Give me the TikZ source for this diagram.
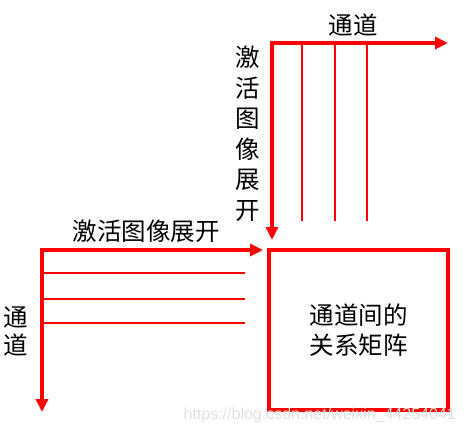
\documentclass[tikz,border=0pt]{standalone}
\usepackage{fontspec}
\setmainfont{Liberation Sans}
\newfontfamily\cjk{Noto Sans CJK SC}
\usetikzlibrary{arrows.meta}
\begin{document}
\begin{tikzpicture}[x=1pt,y=-1pt,
  thickline/.style={red, line width=4pt},
  thinline/.style={red, line width=2pt},
  arr/.style={thickline, -{Triangle[length=13pt,width=12pt]}},
  lbl/.style={font=\cjk\fontsize{24.5}{30}\selectfont, inner sep=0pt, align=center},
  wmark/.style={font=\fontsize{16}{18}\selectfont, text=black!12, inner sep=0pt}
]
\useasboundingbox (0,0) rectangle (466,434);
% ---------- top group ----------
\coordinate (ts) at (270,43);
\coordinate (tc) at (272,41);
\coordinate (tr) at (448,43);
\coordinate (tb) at (272,240);
\draw[arr] (ts) -- (tr);
\draw[arr] (tc) -- (tb);
\foreach \i/\x in {1/302,2/335,3/367}{
  \coordinate (tt\i) at (\x,43);
  \coordinate (tu\i) at (\x,221);
  \draw[thinline] (tt\i) -- (tu\i);
}
\node[lbl] (toplbl) at (353,25) {通道};
\node[lbl, font=\cjk\fontsize{24.5}{30.5}\selectfont] (vlbl) at (248,133.5) {激\\活\\图\\像\\展\\开};
% ---------- left group ----------
\coordinate (ls) at (40,250);
\coordinate (lc) at (42,248);
\coordinate (lr) at (263,250);
\coordinate (lb) at (42,412);
\draw[arr] (ls) -- (lr);
\draw[arr] (lc) -- (lb);
\foreach \i/\y in {1/273,2/299,3/323}{
  \coordinate (la\i) at (42,\y);
  \coordinate (lz\i) at (245,\y);
  \draw[thinline] (la\i) -- (lz\i);
}
\node[lbl] (hlbl) at (146,231) {激活图像展开};
\node[lbl, font=\cjk\fontsize{24.5}{28}\selectfont] (llbl) at (16,331) {通\\道};
% ---------- matrix box ----------
\node[draw=red, line width=4pt, minimum width=179pt, minimum height=160pt,
      inner sep=0pt, lbl] (box) at (358.5,330) {通道间的\\关系矩阵};
% ---------- watermark ----------
\node[wmark, anchor=east] (wm) at (456,415) {https://blog.csdn.net/weixin\_44254041};
\end{tikzpicture}
\end{document}
